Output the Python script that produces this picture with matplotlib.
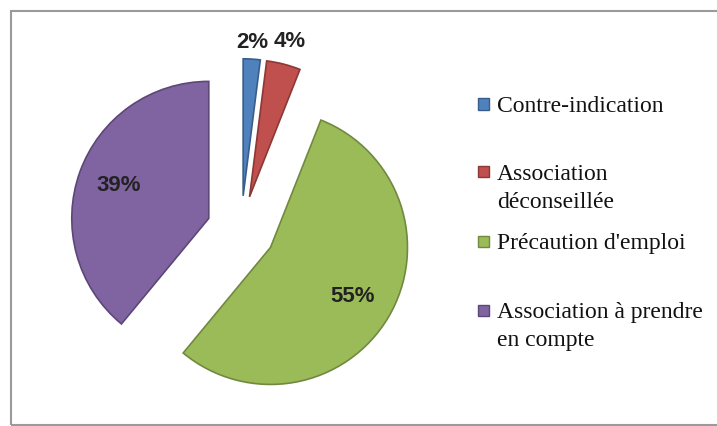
import numpy as np
import matplotlib
matplotlib.use("Agg")
import matplotlib.pyplot as plt
from matplotlib.patches import Rectangle

labels = ["Contre-indication", "Association\ndéconseillée", "Précaution d'emploi",
          "Association à prendre\nen compte"]
values = [2, 4, 55, 39]
colors = ["#4f81bd", "#c0504d", "#9bbb59", "#8064a2"]
edges = ["#385d8a", "#8c3836", "#71893f", "#5c4776"]

W, H = 717, 426
fig = plt.figure(figsize=(W / 100, H / 100), dpi=100)

# pie axes cover the whole figure; 137 px per data unit, pie centre at (241, 230)
r_px = 137.0
cx, cy = 241, H - 230
ax = fig.add_axes([0, 0, 1, 1])

wedges, texts, autotexts = ax.pie(
    values, colors=colors, startangle=90, counterclock=False,
    explode=[0.25] * 4, radius=1.0, autopct="%d%%", pctdistance=0.7,
    wedgeprops=dict(linewidth=1.2),
    textprops=dict(fontsize=16, fontweight="bold", family="Liberation Sans",
                   color="#222222"))
for w, ec in zip(wedges, edges):
    w.set_edgecolor(ec)

ax.set_xlim(-cx / r_px, (W - cx) / r_px)
ax.set_ylim(-cy / r_px, (H - cy) / r_px)
ax.set_aspect("equal")
ax.axis("off")

# small slices get their percentages outside
outside = {2: 1.12, 4: 1.17}
for w, t, v in zip(wedges, autotexts, values):
    if v in outside:
        ang = np.deg2rad((w.theta1 + w.theta2) / 2)
        x0, y0 = w.center
        d = outside[v]
        t.set_position((x0 + d * np.cos(ang), y0 + d * np.sin(ang)))

# legend
ys = [104, 172, 241, 310]
for lab, col, ec, y in zip(labels, colors, edges, ys):
    fig.patches.append(Rectangle((478 / W, (H - y - 5.5) / H), 11 / W, 11 / H,
                                 transform=fig.transFigure, facecolor=col,
                                 edgecolor=ec, linewidth=1))
    fig.text(497 / W, (H - y + 8) / H, lab, fontsize=17, family="Liberation Serif",
             va="top", ha="left", color="#111111", linespacing=1.45,
             transform=fig.transFigure)

# outer frame
fig.patches.append(Rectangle((10.5 / W, 1.5 / H), 740 / W, (424 - 10.5) / H,
                             transform=fig.transFigure, fill=False,
                             edgecolor="#9a9a9a", linewidth=1.5))

fig.savefig("out.png", dpi=100)
